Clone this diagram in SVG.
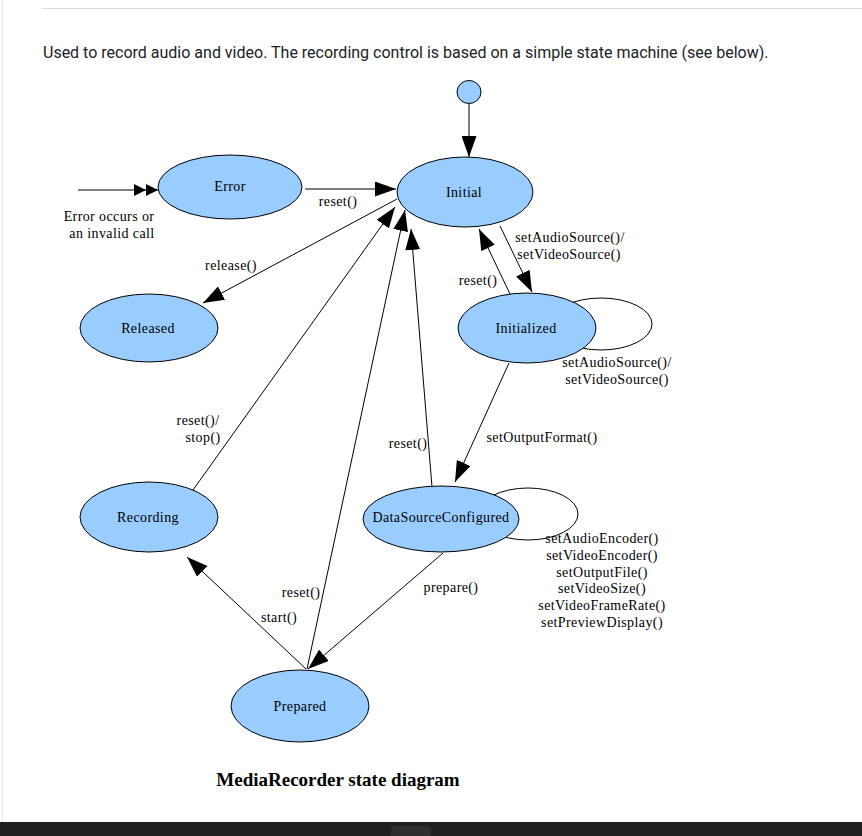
<svg xmlns="http://www.w3.org/2000/svg" width="862" height="836" viewBox="0 0 862 836">
<style>
.st{fill:#99ccff;stroke:#000;stroke-width:1}
.lp{fill:none;stroke:#000;stroke-width:1}
.lbl{font-family:"Liberation Serif","Times New Roman",serif;font-size:14px;letter-spacing:0.4px;fill:#000;text-anchor:middle}
.e{stroke:#000;stroke-width:1;fill:none;marker-end:url(#ah)}
</style>
<defs>
<marker id="ah" markerUnits="userSpaceOnUse" markerWidth="21" markerHeight="15" refX="21" refY="7.5" orient="auto">
<path d="M0,0 L21,7.5 L0,15 z" fill="#000"/>
</marker>
<marker id="ah2" markerUnits="userSpaceOnUse" markerWidth="24" markerHeight="12" refX="24" refY="6" orient="auto">
<path d="M0,0 L12,6 L0,12 z M12,0 L24,6 L12,12 z" fill="#000"/>
</marker>
</defs>
<rect width="862" height="836" fill="#fff"/>
<line x1="2.5" y1="0" x2="2.5" y2="822" stroke="#e6e6e6"/>
<line x1="42" y1="8.5" x2="862" y2="8.5" stroke="#dddddd"/>
<text x="43" y="58" font-family="Roboto,sans-serif" font-size="16" fill="#202124">Used to record audio and video. The recording control is based on a simple state machine (see below).</text>

<g id="connectors">
<line class="e" x1="469" y1="104" x2="469" y2="157"/>
<line x1="78" y1="190" x2="158" y2="190" stroke="#000" marker-end="url(#ah2)"/>
<line class="e" x1="305" y1="189" x2="396" y2="189"/>
<line class="e" x1="397" y1="199" x2="203" y2="303"/>
<line class="e" x1="193" y1="490" x2="395" y2="207"/>
<line class="e" x1="307" y1="669" x2="405" y2="210"/>
<line class="e" x1="432" y1="487" x2="411" y2="229"/>
<line class="e" x1="500" y1="226" x2="532" y2="292"/>
<line class="e" x1="510" y1="294" x2="479" y2="229"/>
<line class="e" x1="509" y1="363" x2="455" y2="482"/>
<line class="e" x1="443" y1="553" x2="308" y2="669"/>
<line class="e" x1="306" y1="669" x2="187" y2="557"/>
</g>

<g id="start"><ellipse class="st" cx="469" cy="92" rx="12" ry="11.5"/></g>

<g id="error">
<ellipse class="st" cx="230" cy="187" rx="72" ry="32"/>
<text class="lbl" x="230" y="191">Error</text>
</g>
<g id="initial">
<ellipse class="st" cx="465" cy="192" rx="68" ry="35"/>
<text class="lbl" x="464" y="197">Initial</text>
</g>
<g id="released">
<ellipse class="st" cx="149" cy="328" rx="69" ry="34"/>
<text class="lbl" x="148" y="333">Released</text>
</g>
<g id="initialized">
<ellipse class="lp" cx="601" cy="324" rx="51" ry="26"/>
<ellipse class="st" cx="527" cy="328" rx="69" ry="35"/>
<text class="lbl" x="526" y="333">Initialized</text>
</g>
<g id="recording">
<ellipse class="st" cx="149" cy="517" rx="69" ry="35"/>
<text class="lbl" x="148" y="522">Recording</text>
</g>
<g id="datasourceconfigured">
<ellipse class="lp" cx="528" cy="514" rx="50" ry="26"/>
<ellipse class="st" cx="441" cy="519" rx="78" ry="33"/>
<text class="lbl" x="441" y="522">DataSourceConfigured</text>
</g>
<g id="prepared">
<ellipse class="st" cx="300" cy="706" rx="69" ry="36"/>
<text class="lbl" x="300" y="711">Prepared</text>
</g>

<g id="labels">
<text class="lbl" x="338" y="206">reset()</text>
<text class="lbl" x="109" y="221">Error occurs or</text>
<text class="lbl" x="112" y="238">an invalid call</text>
<text class="lbl" x="231" y="270">release()</text>
<text class="lbl" x="570" y="242">setAudioSource()/</text>
<text class="lbl" x="569" y="259">setVideoSource()</text>
<text class="lbl" x="478" y="285">reset()</text>
<text class="lbl" x="617" y="367">setAudioSource()/</text>
<text class="lbl" x="617" y="384">setVideoSource()</text>
<text class="lbl" x="542" y="442">setOutputFormat()</text>
<text class="lbl" x="198" y="425">reset()/</text>
<text class="lbl" x="203" y="442">stop()</text>
<text class="lbl" x="408" y="448">reset()</text>
<text class="lbl" x="602" y="543">setAudioEncoder()</text>
<text class="lbl" x="602" y="560">setVideoEncoder()</text>
<text class="lbl" x="602" y="577">setOutputFile()</text>
<text class="lbl" x="602" y="593">setVideoSize()</text>
<text class="lbl" x="602" y="610">setVideoFrameRate()</text>
<text class="lbl" x="602" y="627">setPreviewDisplay()</text>
<text class="lbl" x="451" y="592">prepare()</text>
<text class="lbl" x="301" y="597">reset()</text>
<text class="lbl" x="279" y="622">start()</text>
</g>

<text x="338" y="786" font-family="'Liberation Serif','Times New Roman',serif" font-size="19" font-weight="bold" text-anchor="middle" fill="#000">MediaRecorder state diagram</text>

<rect x="0" y="822" width="862" height="14" fill="#202020"/>
<rect x="391" y="826" width="40" height="12" rx="3" fill="#2e2e2e"/>
</svg>
